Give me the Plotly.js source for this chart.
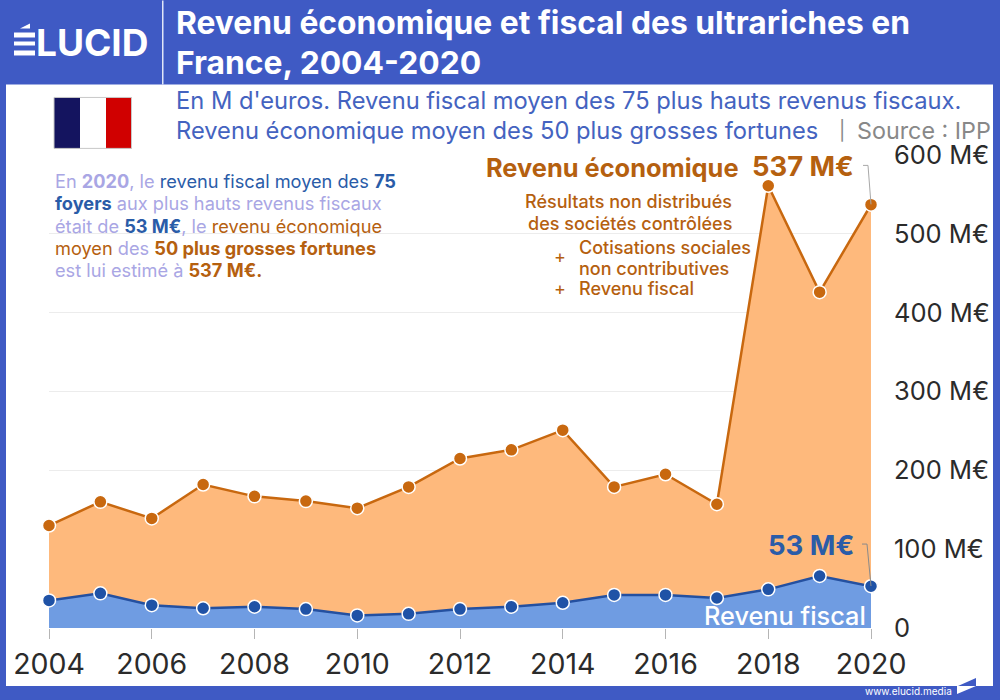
<!DOCTYPE html>
<html><head><meta charset="utf-8">
<script src="https://cdn.plot.ly/plotly-3.0.1.min.js"></script>
<style>html,body{margin:0;padding:0;background:#3F5AC4}#c{width:1000px;height:700px}</style>
</head><body><div id="c"></div>
<script>
const years=[2004,2005,2006,2007,2008,2009,2010,2011,2012,2013,2014,2015,2016,2017,2018,2019,2020];
const revenuEconomique=[130,160,139,182,167,161,152,179,215,226,251,179,195,157,561,426,537];
const revenuFiscal=[35,44,29,25,27,24,16,18,24,27,32,42,42,38,49,66,53];
const xTicks=[2004,2006,2008,2010,2012,2014,2016,2018,2020];
const yTicks=[0,100,200,300,400,500,600];
const yTickLabels=['0','100 M€','200 M€','300 M€','400 M€','500 M€','600 M€'];

const FONT='Inter, "Open Sans", sans-serif';
const L=49,R=871,T=154.6,B=628;
const px=x=>(x-L)/(R-L), py=y=>(B-y)/(B-T);
const BLUE='#3F5AC4',ORANGE='#B5600F',NAVY='#2A5CA8',LILAC='#A9A6E4';
function ann(text,x,y,size,color,anchor,weight){
  return {text,x:px(x),y:py(y),xref:'paper',yref:'paper',showarrow:false,xanchor:anchor||'left',yanchor:'middle',
    font:{family:FONT,size,color,weight:weight||400},borderpad:0};
}
const s=(c,t)=>`<span style="color:${c}">${t}</span>`;
const b=(c,t)=>`<b style="color:${c}">${t}</b>`;
function rect(x0,y0,x1,y1,fill,layer){
  return {type:'rect',xref:'paper',yref:'paper',x0:px(x0),x1:px(x1),y0:py(y0),y1:py(y1),fillcolor:fill,line:{width:0},layer:layer||'below'};
}
function path(pts,color,fill){
  const d=pts.map((p,i)=>(i?'L':'M')+px(p[0])+','+py(p[1])).join(' ')+(fill?' Z':'');
  return {type:'path',xref:'paper',yref:'paper',path:d,line:{color:color,width:fill?0:1},fillcolor:fill||'rgba(0,0,0,0)',layer:'above'};
}
const shapes=[
  rect(6,84,993,686,'#ffffff'),
  rect(162,0,163.5,84,'#dfe5f7'),
  rect(54,97,80,148,'#14145F'),
  rect(80,97,106,148,'#ffffff'),
  rect(106,97,131.5,148,'#D00000'),
  path([[54,97],[131.5,97],[131.5,148],[54,148],[54,97]],'#c8c8c8'),
  path([[863,165],[868,165],[871,204]],'#a8a8a8'),
  path([[862,544],[867,544],[871,586]],'#8a8a8a'),
  rect(14,32,35,37,'#ffffff','above'),
  rect(14,41,35,45,'#ffffff','above'),
  rect(14,50,35,55,'#ffffff','above'),
  path([[20,28],[30,23],[30,28]],'#ffffff','#ffffff'),
  path([[958,686],[976,678],[976,686]],BLUE,BLUE),
  path([[957,686],[976,686],[957,694]],'#ffffff','#ffffff')
];
const annotations=[
  ann('<b>LUCID</b>',35,42,37,'#ffffff'),
  ann('<b>Revenu économique et fiscal des ultrariches en</b>',175,22,31.8,'#ffffff'),
  ann('<b>France, 2004-2020</b>',175,62,31.8,'#ffffff'),
  ann("En M d'euros. Revenu fiscal moyen des 75 plus hauts revenus fiscaux.",175,100,23.7,'#4463C0'),
  ann('Revenu économique moyen des 50 plus grosses fortunes',175,130,23.7,'#4463C0'),
  ann('|',838,130,19,'#888888'),
  ann('Source : IPP',855.5,130,23.3,'#888888'),
  ann(s(LILAC,'En ')+b(LILAC,'2020')+s(LILAC,', le ')+s(NAVY,'revenu fiscal moyen des ')+b(NAVY,'75'),53.5,181,18.2,LILAC),
  ann(b(NAVY,'foyers')+s(LILAC,' aux plus hauts revenus fiscaux'),53.5,203,18.2,LILAC),
  ann(s(LILAC,'était de ')+b(NAVY,'53 M€')+s(LILAC,', le ')+s(ORANGE,'revenu économique'),53.5,226,18.2,LILAC),
  ann(s(ORANGE,'moyen ')+s(LILAC,'des ')+b(ORANGE,'50 plus grosses fortunes'),53.5,248,18.2,ORANGE),
  ann(s(LILAC,'est lui estimé à ')+b(ORANGE,'537 M€.'),53.5,270,18.2,LILAC),
  ann('<b>Revenu économique</b>',484.5,167,25.4,ORANGE),
  ann('<b>537 M€</b>',751,166,27.4,ORANGE),
  ann('Résultats non distribués',733,201,18,ORANGE,'right',500),
  ann('des sociétés contrôlées',733,223,18,ORANGE,'right',500),
  ann('+',560,256,18,ORANGE,'center'),
  ann('Cotisations sociales',578,247,18,ORANGE,'left',500),
  ann('non contributives',578,268.5,18,ORANGE,'left',500),
  ann('+',560,288,18,ORANGE,'center'),
  ann('Revenu fiscal',578,288.5,18,ORANGE,'left',500),
  ann('<b>53 M€</b>',766.5,545,27.5,NAVY),
  ann('Revenu fiscal',867,615,25.3,'#ffffff','right',500),
  ann('www.elucid.media',864,691,10,'#ffffff')
];
const traces=[
 {x:years,y:revenuEconomique,type:'scatter',mode:'lines+markers',fill:'tozeroy',fillcolor:'#FEB97C',cliponaxis:false,
  line:{color:'#C8680F',width:2.5},marker:{size:13,color:'#C8680F',line:{color:'#ffffff',width:1.5}},hoverinfo:'skip'},
 {x:years,y:revenuFiscal,type:'scatter',mode:'lines+markers',fill:'tozeroy',fillcolor:'#6F9CE2',cliponaxis:false,
  line:{color:'#2450A0',width:2.5},marker:{size:13,color:'#1F52A6',line:{color:'#ffffff',width:1.5}},hoverinfo:'skip'}
];
const layout={
  width:1000,height:700,autosize:false,showlegend:false,hovermode:false,
  paper_bgcolor:BLUE,plot_bgcolor:'rgba(0,0,0,0)',
  margin:{l:L,r:1000-R,t:T,b:700-B,pad:0},
  font:{family:FONT,color:'#2b2b2b'},
  xaxis:{range:[2004,2020],tickvals:xTicks,ticktext:xTicks.map(String),showgrid:false,zeroline:false,showline:false,
    ticks:'outside',ticklen:10,tickwidth:1,tickcolor:'#b5b5b5',tickfont:{size:28.5,family:FONT,color:'#2b2b2b'},ticklabelstandoff:1},
  yaxis:{range:[0,600],side:'right',tickvals:yTicks,ticktext:yTickLabels,showgrid:true,gridcolor:'#ececec',gridwidth:1,zeroline:false,showline:false,
    ticks:'',tickfont:{size:25.5,family:FONT,color:'#2b2b2b'},ticklabelstandoff:22},
  shapes,annotations
};
Plotly.newPlot('c',traces,layout,{displayModeBar:false,staticPlot:true});
</script></body></html>
